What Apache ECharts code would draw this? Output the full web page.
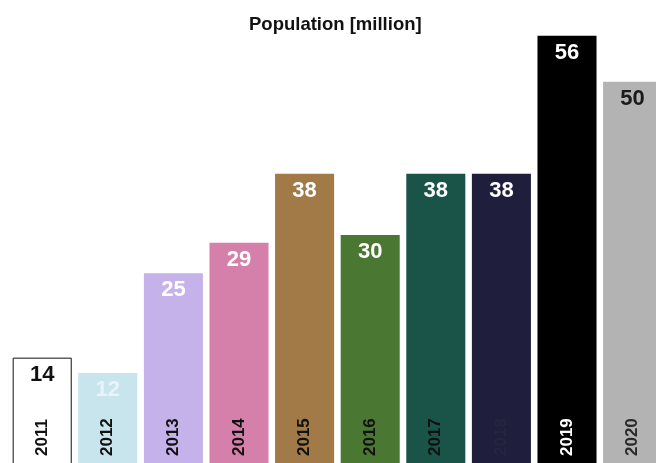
<!DOCTYPE html>
<html>
<head>
<meta charset="utf-8">
<script src="https://cdn.jsdelivr.net/npm/echarts@6/dist/echarts.min.js"></script>
<style>
html,body{margin:0;padding:0;background:#fff;}
#chart{width:656px;height:463px;}
</style>
</head>
<body>
<div id="chart"></div>
<script>
const years = ['2011','2012','2013','2014','2015','2016','2017','2018','2019','2020'];
const population = [14, 12, 25, 29, 38, 30, 38, 38, 56, 50];
const barColors = ['#ffffff','#c8e4ec','#c6b2ea','#d580aa','#a27a48','#4a7832','#1a5448','#1f1f3d','#000000','#b3b3b3'];
const valueColors = ['#111111','#e9f4f8','#ffffff','#ffffff','#ffffff','#ffffff','#ffffff','#ffffff','#ffffff','#1a1a1a'];
const yearColors = ['#111111','#111111','#111111','#111111','#111111','#111111','#111111','#252540','#ffffff','#2a2a2a'];

const chart = echarts.init(document.getElementById('chart'), null, {renderer:'canvas'});
chart.setOption({
  animation:false,
  backgroundColor:'#ffffff',
  title:{
    text:'Population [million]',
    left:244, top:10,
    textStyle:{fontFamily:'Liberation Sans', fontWeight:'bold', fontSize:18.5, color:'#111'}
  },
  grid:{left:9.4, width:656, top:5, bottom:-2, containLabel:false, outerBoundsMode:'none'},
  xAxis:{
    type:'category', data:years,
    axisLine:{show:false}, axisTick:{show:false},
    axisLabel:{
      inside:true, rotate:90, margin:9, interval:0,
      fontFamily:'Liberation Sans', fontWeight:'bold', fontSize:17,
      color:function(v, i){ return yearColors[i]; }
    },
    z:10
  },
  yAxis:{type:'value', min:0, max:60, show:false, splitLine:{show:false}},
  series:[{
    type:'bar',
    barCategoryGap:'10%',
    data: population.map((v,i)=>({
      value:v,
      itemStyle:{color:barColors[i], borderColor: i===0 ? '#111' : barColors[i], borderWidth: i===0 ? 1 : 0},
      label:{color:valueColors[i]}
    })),
    label:{
      show:true, position:'insideTop', distance:6,
      fontFamily:'Liberation Sans', fontWeight:'bold', fontSize:22
    }
  }]
});
</script>
</body>
</html>
